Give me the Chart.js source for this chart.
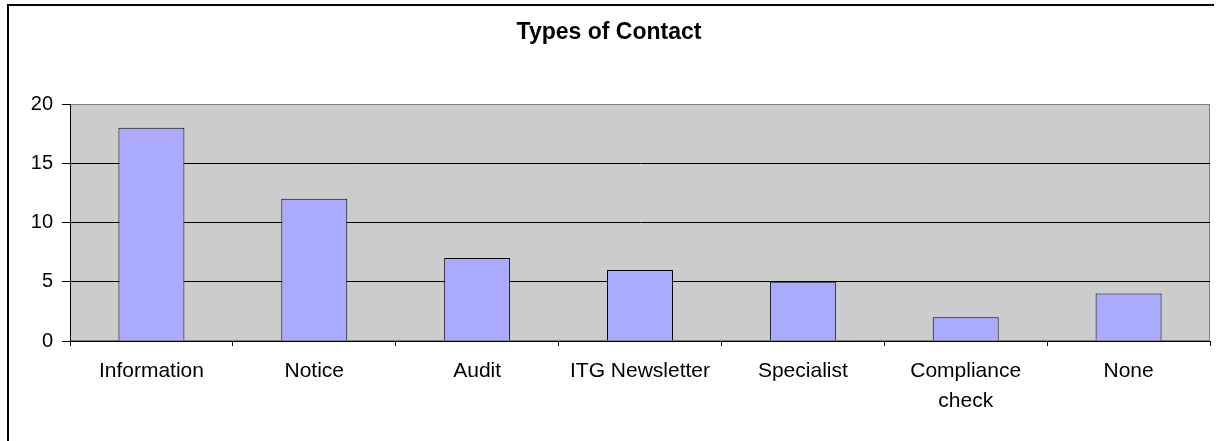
<!DOCTYPE html>
<html>
<head>
<meta charset="utf-8">
<title>Types of Contact</title>
<script src="https://cdn.jsdelivr.net/npm/chart.js@4"></script>
<style>
  html, body { margin: 0; padding: 0; background: #fff; }
  #wrap { position: relative; width: 1223px; height: 441px; overflow: hidden; }
  #frame {
    position: absolute; left: 7px; top: 4px; width: 1205px; height: 460px;
    border-top: 2px solid #000; border-left: 2px solid #000; pointer-events: none;
  }
  canvas { position: absolute; left: 0; top: 0; }
</style>
</head>
<body>
<div id="wrap">
  <canvas id="contactChart" width="1223" height="441"></canvas>
  <div id="frame"></div>
</div>
<script>
'use strict';

// Data
const categories = ['Information', 'Notice', 'Audit', 'ITG Newsletter', 'Specialist', ['Compliance', 'check'], 'None'];
const contactCounts = [18, 12, 7, 6, 5, 2, 4];
const yTicks = [0, 5, 10, 15, 20];

const FONT = '"Liberation Sans", Arial, sans-serif';

// gray plot area with thin gray frame
const plotBackground = {
  id: 'plotBackground',
  beforeDraw(chart) {
    const { ctx, chartArea: a } = chart;
    ctx.save();
    ctx.fillStyle = '#CCCCCC';
    ctx.fillRect(a.left, a.top, a.right - a.left, a.bottom - a.top);
    ctx.strokeStyle = '#808080';
    ctx.lineWidth = 1;
    ctx.strokeRect(a.left + 0.5, a.top + 0.5, a.right - a.left - 1, a.bottom - a.top - 1);
    ctx.restore();
  }
};

const ctx = document.getElementById('contactChart').getContext('2d');
new Chart(ctx, {
  type: 'bar',
  data: {
    labels: categories,
    datasets: [{
      label: 'Types of Contact',
      data: contactCounts,
      backgroundColor: '#AAAAFF',
      borderColor: '#000',
      borderWidth: 1,
      categoryPercentage: 1,
      barPercentage: 0.405
    }]
  },
  options: {
    responsive: false,
    animation: false,
    layout: { padding: { left: 8, right: 13, top: 0, bottom: 0 } },
    plugins: {
      legend: { display: false },
      tooltip: { enabled: false },
      title: {
        display: true,
        text: 'Types of Contact',
        color: '#000',
        font: { family: FONT, size: 23, weight: 'bold', lineHeight: 1.2 },
        padding: { top: 19, bottom: 57.4 }
      }
    },
    scales: {
      x: {
        grid: { drawOnChartArea: false, drawTicks: true, tickLength: 5, color: '#000' },
        border: { color: '#000', width: 1 },
        ticks: {
          color: '#000',
          padding: 10,
          maxRotation: 0,
          autoSkip: false,
          font: { family: FONT, size: 21, lineHeight: 1.45 }
        },
        afterFit(scale) { scale.height = 100; }
      },
      y: {
        min: 0,
        max: 20,
        afterBuildTicks(scale) { scale.ticks = yTicks.map(v => ({ value: v })); },
        grid: {
          color: c => (c.tick && c.tick.value === 20 ? 'rgba(0,0,0,0)' : '#000'),
          tickColor: '#000',
          tickLength: 8,
          lineWidth: 1
        },
        border: { color: '#000', width: 1 },
        ticks: {
          color: '#000',
          padding: 9,
          font: { family: FONT, size: 20 }
        },
        afterFit(scale) { scale.width = 62; }
      }
    }
  },
  plugins: [plotBackground]
});
</script>
</body>
</html>
